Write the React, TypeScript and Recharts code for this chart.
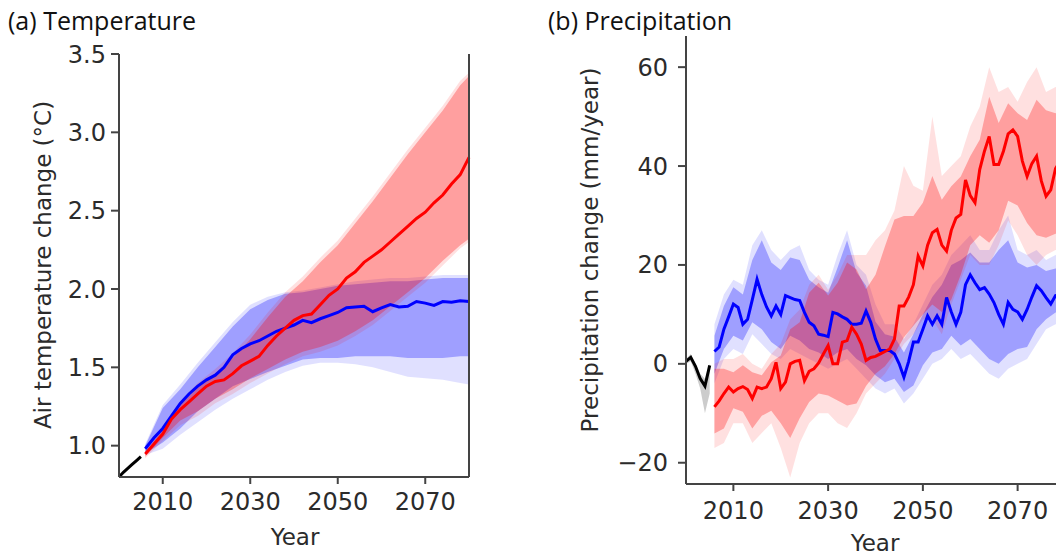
import React from 'react'
import { ComposedChart, Area, Line, XAxis, YAxis, ReferenceLine } from 'recharts'

// ---- shared x values ----
const histYears = [2000, 2001, 2002, 2003, 2004, 2005]
const evenYears = [2006, 2008, 2010, 2012, 2014, 2016, 2018, 2020, 2022, 2024, 2026, 2028, 2030, 2032, 2034, 2036, 2038, 2040, 2042, 2044, 2046, 2048, 2050, 2052, 2054, 2056, 2058, 2060, 2062, 2064, 2066, 2068, 2070, 2072, 2074, 2076, 2078, 2080]
const tempBandYears = [2006, 2010, 2014, 2018, 2022, 2026, 2030, 2034, 2038, 2042, 2046, 2050, 2054, 2058, 2062, 2066, 2070, 2074, 2078, 2080]
const allYears = [2006, 2007, 2008, 2009, 2010, 2011, 2012, 2013, 2014, 2015, 2016, 2017, 2018, 2019, 2020, 2021, 2022, 2023, 2024, 2025, 2026, 2027, 2028, 2029, 2030, 2031, 2032, 2033, 2034, 2035, 2036, 2037, 2038, 2039, 2040, 2041, 2042, 2043, 2044, 2045, 2046, 2047, 2048, 2049, 2050, 2051, 2052, 2053, 2054, 2055, 2056, 2057, 2058, 2059, 2060, 2061, 2062, 2063, 2064, 2065, 2066, 2067, 2068, 2069, 2070, 2071, 2072, 2073, 2074, 2075, 2076, 2077, 2078, 2079, 2080]
const yearTicks = [2010, 2030, 2050, 2070]

// ---- (a) temperature ----
const tempHist = [0.8, 0.83, 0.855, 0.88, 0.905, 0.93]
const tempBlue = [0.98, 1.05, 1.11, 1.19, 1.27, 1.33, 1.38, 1.42, 1.45, 1.5, 1.58, 1.62, 1.65, 1.67, 1.7, 1.73, 1.75, 1.77, 1.8, 1.785, 1.81, 1.83, 1.85, 1.88, 1.885, 1.89, 1.855, 1.88, 1.9, 1.885, 1.89, 1.92, 1.91, 1.895, 1.92, 1.915, 1.925, 1.92]
const tempRed = [0.947, 1.01, 1.074, 1.17, 1.23, 1.28, 1.33, 1.38, 1.41, 1.42, 1.46, 1.51, 1.54, 1.57, 1.64, 1.7, 1.75, 1.8, 1.83, 1.84, 1.9, 1.96, 2.0, 2.07, 2.11, 2.17, 2.21, 2.25, 2.3, 2.35, 2.4, 2.45, 2.49, 2.55, 2.6, 2.67, 2.73, 2.84]
const tempBlueInLo = [0.95, 1.02, 1.11, 1.22, 1.3, 1.38, 1.425, 1.47, 1.51, 1.55, 1.56, 1.56, 1.57, 1.57, 1.57, 1.56, 1.56, 1.56, 1.57, 1.57]
const tempBlueInHi = [1.0, 1.24, 1.36, 1.5, 1.63, 1.76, 1.87, 1.93, 1.97, 1.98, 2.0, 2.02, 2.03, 2.04, 2.05, 2.05, 2.06, 2.07, 2.07, 2.07]
const tempBlueOutLo = [0.94, 0.98, 1.07, 1.15, 1.23, 1.3, 1.36, 1.42, 1.47, 1.51, 1.53, 1.53, 1.52, 1.5, 1.47, 1.44, 1.43, 1.42, 1.4, 1.39]
const tempBlueOutHi = [1.01, 1.26, 1.39, 1.53, 1.66, 1.79, 1.9, 1.95, 1.98, 1.99, 2.01, 2.03, 2.05, 2.06, 2.07, 2.07, 2.08, 2.09, 2.09, 2.09]
const tempRedInLo = [0.93, 1.05, 1.16, 1.22, 1.3, 1.36, 1.43, 1.49, 1.55, 1.6, 1.63, 1.67, 1.73, 1.8, 1.89, 1.98, 2.07, 2.18, 2.28, 2.32]
const tempRedInHi = [0.96, 1.1, 1.26, 1.37, 1.46, 1.56, 1.68, 1.82, 1.95, 2.05, 2.17, 2.28, 2.42, 2.56, 2.71, 2.86, 3.0, 3.14, 3.3, 3.36]
const tempRedOutLo = [0.92, 1.03, 1.13, 1.19, 1.27, 1.33, 1.4, 1.46, 1.52, 1.57, 1.6, 1.64, 1.7, 1.77, 1.86, 1.95, 2.04, 2.15, 2.26, 2.3]
const tempRedOutHi = [0.97, 1.12, 1.28, 1.4, 1.49, 1.59, 1.71, 1.85, 1.98, 2.08, 2.2, 2.31, 2.45, 2.59, 2.74, 2.89, 3.03, 3.17, 3.33, 3.38]
const tempTicks = [1.0, 1.5, 2.0, 2.5, 3.0, 3.5]

// ---- (b) precipitation ----
const precHist = [0.5, 1.3, -0.5, -3, -4.5, -0.3]
const precHistLo = [0, 0.5, -2, -5, -10, -6]
const precHistHi = [1, 2, 0, -2, -3, 0]
const precBlue = [2.5, 3.4, 7, 9.5, 12.1, 11.4, 8, 9, 13, 17.1, 14, 11.5, 9.7, 11.7, 10, 13.8, 13.4, 13, 12.8, 10.4, 8.4, 7.7, 6, 5.8, 5.5, 10.4, 10.1, 9.5, 9, 8, 8, 8.2, 10.7, 8.4, 5, 2.7, 2.7, 2.7, 2, 0, -2.7, 0.5, 4.4, 4.4, 7, 9.7, 8, 9.7, 8, 13.4, 10.5, 8, 10.4, 16, 18, 16.4, 15, 15.4, 14.1, 12.4, 10, 8, 12.4, 11, 10.5, 9, 11, 13.5, 15.8, 14.8, 13.4, 12.1, 13.8, 14, 13.5]
const precRed = [-8.7, -7.5, -6, -4.7, -5.7, -5, -4.6, -5.2, -7, -4.7, -5, -4.7, -3, 0.3, -5, -3.7, 0, 0.5, 0.7, -3.4, -1.5, -1, 0.2, 2, 3.7, 0, 0, 4.4, 4.7, 7.4, 6, 4, 0.7, 1.3, 1.5, 2, 2.5, 3, 5, 11.7, 11.7, 13.5, 16, 21.8, 19.8, 24, 26.5, 27.2, 24, 22.8, 27, 29.5, 30.2, 37.2, 34, 32.6, 39.3, 43, 46, 40.3, 40.3, 43, 46.5, 47.3, 46, 41, 37.9, 40.5, 42, 37, 33.9, 35.2, 39.5, 41, 40]
const precBlueInLo = [-2, 3, 5.7, 4.7, 8.4, 7, 4.4, 3, 5.7, 4.7, 3, 2.3, 1, 2.3, 3, 1, -0.3, -2.3, -3.7, -3, -5.7, -4.4, -0.3, 2.3, 3, 5.7, 3.7, 5, 3, 1, 0, 2, 3, 3.4, 7, 9, 10.4, 10]
const precBlueInHi = [5.7, 11.7, 15.5, 14, 21, 25, 20.5, 19, 21.5, 21, 17, 15.5, 14.4, 19.5, 25, 18.5, 15.8, 8.5, 6, 5.5, 2.3, 6, 10, 13.5, 16, 20, 21, 22.5, 20.5, 20.5, 23, 25, 20.5, 19.5, 20, 18.8, 19.3, 19]
const precBlueOutLo = [-4, 1, 3, 2, 6, 4, 2, 1, 3, 2, 1, 0, -1, 0, 1, -1, -3, -5, -6, -5, -8, -6, -3, 0, 1, 3, 1, 2, 0, -2, -3, -1, 0, 1, 4, 7, 8, 8]
const precBlueOutHi = [8, 14, 17, 16, 24, 27, 23, 21, 23, 24, 19, 17, 16, 22, 27, 20, 18, 12, 8, 8, 5, 8, 12, 16, 18, 22, 24, 26, 23, 23, 27, 30, 23, 22, 23, 21, 22, 22]
const precRedInLo = [-14.1, -13.1, -9, -9.7, -13.1, -10.5, -9.5, -12, -15, -11, -7.7, -6, -6.4, -7.4, -8.4, -8, -4.5, -2, -0.5, 2, 5.4, 7.7, 10, 12, 10.5, 13, 18, 24, 26, 24.5, 27, 33, 32, 28.5, 26, 25.5, 26.3, 26]
const precRedInHi = [-1, -1, -1.7, -0.3, -1.7, -2.3, 0.3, 1.7, 7, 8.4, 14.4, 16.4, 13.8, 16.4, 20.5, 19.1, 15.1, 18, 23.8, 29.2, 29.9, 29.9, 32.6, 38, 33.2, 35.9, 37.9, 42, 45.3, 54, 48.7, 52.7, 50.7, 49.3, 53.4, 51.3, 50.7, 51]
const precRedOutLo = [-17, -16, -12, -12, -16, -14, -12, -17, -23, -16, -12, -10, -10, -12, -13, -10, -6, -4, -2, 1, 4, 6, 9, 9, 6, 12, 17, 22, 20, 20, 24, 29, 26, 22, 20, 22, 23, 23]
const precRedOutHi = [0, 1, 1, 2, 0, -1, 2, 4, 9, 11, 16, 18, 15, 18, 22, 22, 22, 25, 27, 31, 40, 36, 35, 50, 38, 40, 42, 48, 52, 60, 55, 56, 53, 57, 60, 55, 56, 56]
const precTicks = [-20, 0, 20, 40, 60]

const pts = (xs: number[], ys: number[]) => xs.map((year, i) => ({ year, v: ys[i] }))
const band = (xs: number[], lo: number[], hi: number[]) => xs.map((year, i) => ({ year, v: [lo[i], hi[i]] }))

const AX = '#444'
const tickFont = { fontSize: 24, fill: '#2b2b2b', fontFamily: 'DejaVu Sans' }
const labelFont = { fontSize: 23, fill: '#2b2b2b', fontFamily: 'DejaVu Sans' }
const titleFont = { fontSize: 25, fill: '#111', fontFamily: 'Open Sans' }

const fillBand = (data: any[], color: string, opacity: number) => (
  <Area data={data} dataKey="v" type="linear" stroke="none" fill={color} fillOpacity={opacity} dot={false} activeDot={false} isAnimationActive={false} />
)
const line = (data: any[], color: string) => (
  <Line data={data} dataKey="v" type="linear" stroke={color} strokeWidth={3} dot={false} activeDot={false} isAnimationActive={false} />
)

const TempChart = () => (
  <ComposedChart width={480} height={560} margin={{ top: 54, right: 11, bottom: 33, left: 59 }}>
    <XAxis type="number" dataKey="year" domain={[2000, 2080]} ticks={yearTicks} height={50}
      axisLine={{ stroke: AX, strokeWidth: 2 }} tickLine={{ stroke: AX, strokeWidth: 2 }} tickSize={7} tickMargin={9} tick={tickFont} />
    <YAxis type="number" domain={[0.8, 3.5]} ticks={tempTicks} width={60} tickFormatter={(v: number) => v.toFixed(1)}
      axisLine={{ stroke: AX, strokeWidth: 2 }} tickLine={{ stroke: AX, strokeWidth: 2 }} tickSize={8} tickMargin={5} tick={tickFont} />
    {fillBand(band(tempBandYears, tempBlueOutLo, tempBlueOutHi), '#0000ff', 0.12)}
    {fillBand(band(tempBandYears, tempBlueInLo, tempBlueInHi), '#0000ff', 0.29)}
    {fillBand(band(tempBandYears, tempRedOutLo, tempRedOutHi), '#ff0000', 0.12)}
    {fillBand(band(tempBandYears, tempRedInLo, tempRedInHi), '#ff0000', 0.29)}
    {line(pts(histYears, tempHist), '#000')}
    {line(pts(evenYears, tempBlue), '#0000ff')}
    {line(pts(evenYears, tempRed), '#ff0000')}
    <ReferenceLine x={2080} stroke={AX} strokeWidth={2} />
  </ComposedChart>
)

const PrecChart = () => (
  <ComposedChart width={540} height={560} margin={{ top: 36, right: 15, bottom: 26, left: 66 }}>
    <XAxis type="number" dataKey="year" domain={[2000, 2080]} ticks={yearTicks} height={50}
      axisLine={{ stroke: AX, strokeWidth: 2 }} tickLine={{ stroke: AX, strokeWidth: 2 }} tickSize={7} tickMargin={11} tick={tickFont} />
    <YAxis type="number" domain={[-24.3, 66.3]} ticks={precTicks} width={80} allowDataOverflow
      tickFormatter={(v: number) => (v < 0 ? '\u2212' + Math.abs(v) : String(v))}
      axisLine={{ stroke: AX, strokeWidth: 2 }} tickLine={{ stroke: AX, strokeWidth: 2 }} tickSize={8} tickMargin={10} tick={tickFont} />
    {fillBand(band(histYears, precHistLo, precHistHi), '#000', 0.2)}
    {fillBand(band(evenYears, precBlueOutLo, precBlueOutHi), '#0000ff', 0.12)}
    {fillBand(band(evenYears, precBlueInLo, precBlueInHi), '#0000ff', 0.29)}
    {fillBand(band(evenYears, precRedOutLo, precRedOutHi), '#ff0000', 0.12)}
    {fillBand(band(evenYears, precRedInLo, precRedInHi), '#ff0000', 0.29)}
    {line(pts(histYears, precHist), '#000')}
    {line(pts(allYears, precBlue), '#0000ff')}
    {line(pts(allYears, precRed), '#ff0000')}
  </ComposedChart>
)

export default function App() {
  return (
    <div style={{ position: 'fixed', left: 0, top: 0, width: 1056, height: 560, overflow: 'hidden', background: '#fff' }}>
      <div style={{ position: 'absolute', left: 0, top: 0 }}>
        <TempChart />
      </div>
      <div style={{ position: 'absolute', left: 540, top: 0 }}>
        <PrecChart />
      </div>
      <svg width={1056} height={560} style={{ position: 'absolute', left: 0, top: 0, pointerEvents: 'none' }}>
        <text x={8} y={30} {...titleFont}>(a) Temperature</text>
        <text x={548} y={30} {...titleFont}>(b) Precipitation</text>
        <text transform="translate(51,265) rotate(-90)" textAnchor="middle" {...labelFont}>Air temperature change (°C)</text>
        <text transform="translate(598,250) rotate(-90)" textAnchor="middle" {...labelFont}>Precipitation change (mm/year)</text>
        <text x={295} y={545} textAnchor="middle" {...labelFont}>Year</text>
        <text x={875} y={551} textAnchor="middle" {...labelFont}>Year</text>
      </svg>
    </div>
  )
}
